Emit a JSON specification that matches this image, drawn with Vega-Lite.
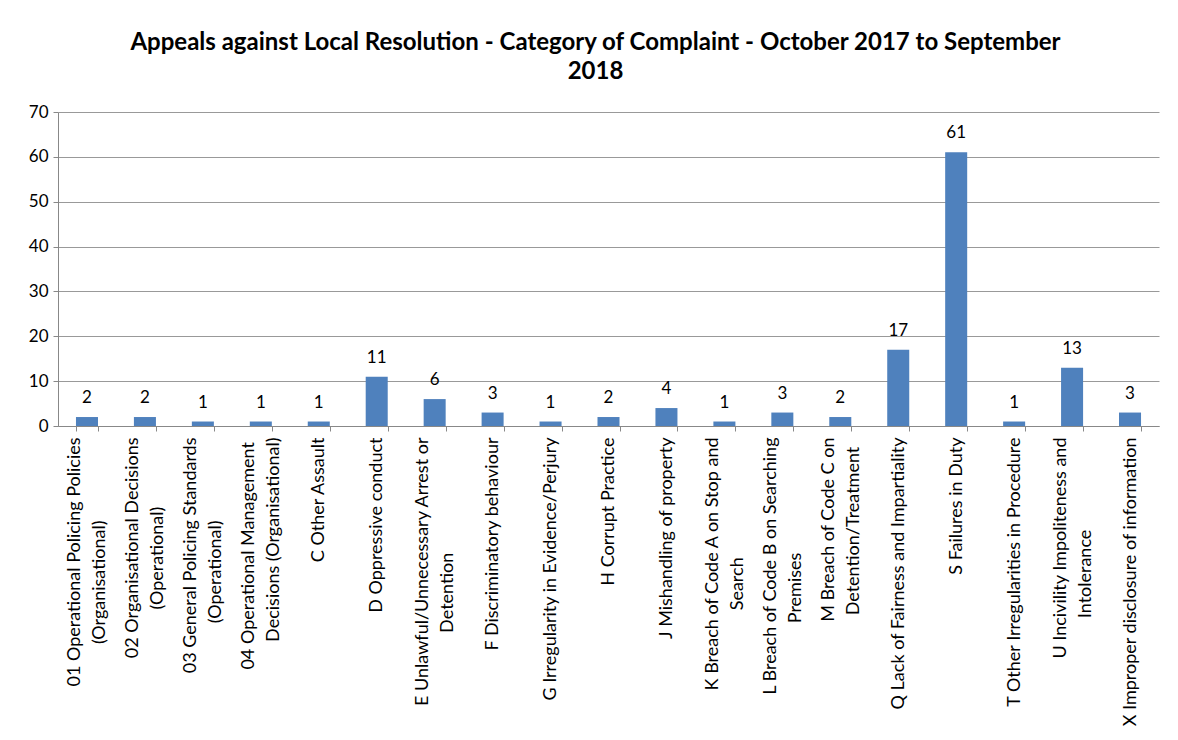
{
  "$schema": "https://vega.github.io/schema/vega-lite/v6.json",
  "width": 1101,
  "height": 314,
  "autosize": {"type": "none"},
  "padding": {"left": 58, "top": 112, "right": 19, "bottom": 314},
  "background": "white",
  "title": {
    "text": ["Appeals against Local Resolution - Category of Complaint - October 2017 to September", "2018"],
    "font": "Lato",
    "fontSize": 24,
    "fontWeight": "bold",
    "color": "black",
    "anchor": "middle",
    "dx": -13,
    "lineHeight": 29,
    "offset": 19
  },
  "config": {
    "view": {"stroke": null},
    "font": "Lato"
  },
  "data": {
    "values": [
      {"category": "01 Operational Policing Policies\n(Organisational)", "count": 2},
      {"category": "02 Organisational Decisions\n(Operational)", "count": 2},
      {"category": "03 General Policing Standards\n(Operational)", "count": 1},
      {"category": "04 Operational Management\nDecisions (Organisational)", "count": 1},
      {"category": "C Other Assault", "count": 1},
      {"category": "D Oppressive conduct", "count": 11},
      {"category": "E Unlawful/Unnecessary Arrest or\nDetention", "count": 6},
      {"category": "F Discriminatory behaviour", "count": 3},
      {"category": "G Irregularity in Evidence/Perjury", "count": 1},
      {"category": "H Corrupt Practice", "count": 2},
      {"category": "J Mishandling of property", "count": 4},
      {"category": "K Breach of Code A on Stop and\nSearch", "count": 1},
      {"category": "L Breach of Code B on Searching\nPremises", "count": 3},
      {"category": "M Breach of Code C on\nDetention/Treatment", "count": 2},
      {"category": "Q Lack of Fairness and Impartiality", "count": 17},
      {"category": "S Failures in Duty", "count": 61},
      {"category": "T Other Irregularities in Procedure", "count": 1},
      {"category": "U Incivility Impoliteness and\nIntolerance", "count": 13},
      {"category": "X Improper disclosure of information", "count": 3}
    ]
  },
  "encoding": {
    "x": {
      "field": "category",
      "type": "nominal",
      "sort": null,
      "scale": {"paddingInner": 0.62, "paddingOuter": 0.31},
      "axis": {
        "title": null,
        "labelAngle": -90,
        "labelExpr": "indexof(datum.label, '\\n') < 0 ? datum.label : [length(split(datum.label, '\\n')[0]) >= length(split(datum.label, '\\n')[1]) ? split(datum.label, '\\n')[0] : pad(split(datum.label, '\\n')[0], length(split(datum.label, '\\n')[0]) + round(1.1 * (length(split(datum.label, '\\n')[1]) - length(split(datum.label, '\\n')[0]))), '\u00a0') + '\u200b', length(split(datum.label, '\\n')[1]) >= length(split(datum.label, '\\n')[0]) ? split(datum.label, '\\n')[1] : pad(split(datum.label, '\\n')[1], length(split(datum.label, '\\n')[1]) + round(1.1 * (length(split(datum.label, '\\n')[0]) - length(split(datum.label, '\\n')[1]))), '\u00a0') + '\u200b']",
        "labelFont": "Lato",
        "labelFontSize": 18,
        "labelLineHeight": 25,
        "labelColor": "black",
        "labelLimit": 400,
        "labelOverlap": false,
        "labelPadding": 6,
        "labelOffset": {"condition": {"test": "indexof(datum.label, '\\n') >= 0", "value": -12}, "value": 0},
        "tickBand": "extent",
        "tickSize": 5,
        "tickColor": "#888888",
        "domainColor": "#888888",
        "grid": false
      }
    },
    "y": {
      "field": "count",
      "type": "quantitative",
      "scale": {"domain": [0, 70]},
      "axis": {
        "title": null,
        "values": [0, 10, 20, 30, 40, 50, 60, 70],
        "labelFont": "Lato",
        "labelFontSize": 17,
        "labelColor": "black",
        "labelPadding": 5,
        "tickSize": 5,
        "tickColor": "#888888",
        "domainColor": "#888888",
        "gridColor": "#999999",
        "grid": true
      }
    }
  },
  "layer": [
    {"mark": {"type": "bar", "color": "#4F81BD"}},
    {
      "mark": {"type": "text", "dy": -10, "fontSize": 17, "font": "Lato", "color": "black", "baseline": "bottom"},
      "encoding": {"text": {"field": "count", "type": "quantitative"}}
    }
  ]
}
